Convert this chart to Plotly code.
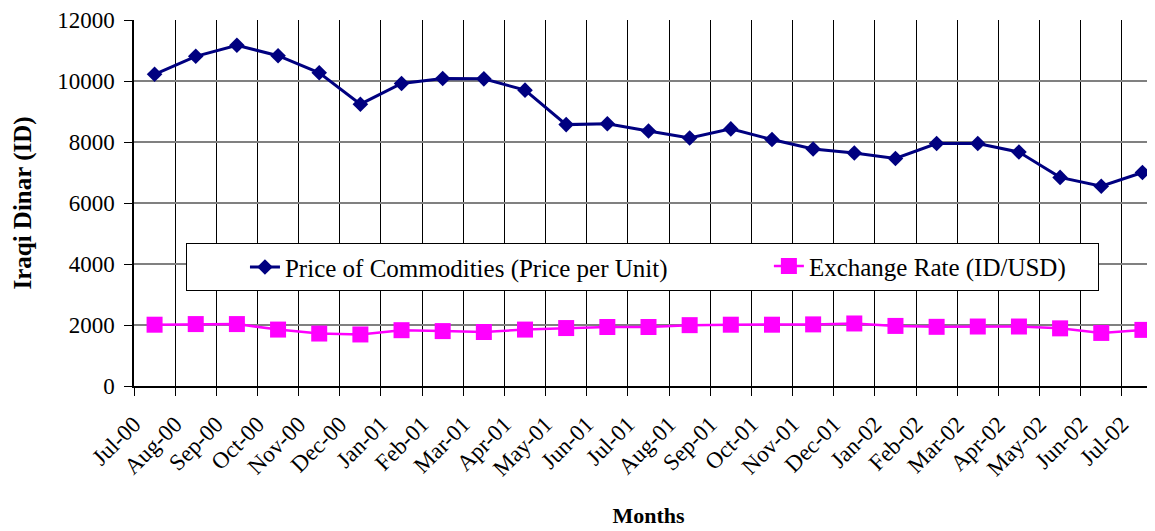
import plotly.graph_objects as go

months = ["Jul-00", "Aug-00", "Sep-00", "Oct-00", "Nov-00", "Dec-00",
          "Jan-01", "Feb-01", "Mar-01", "Apr-01", "May-01", "Jun-01",
          "Jul-01", "Aug-01", "Sep-01", "Oct-01", "Nov-01", "Dec-01",
          "Jan-02", "Feb-02", "Mar-02", "Apr-02", "May-02", "Jun-02", "Jul-02"]

price = [10220, 10810, 11170, 10830, 10270, 9240,
         9920, 10080, 10070, 9700, 8570, 8600,
         8360, 8130, 8430, 8080, 7770, 7640,
         7460, 7950, 7950, 7670, 6840, 6550, 7000]

exchange = [2010, 2030, 2030, 1850, 1720, 1690,
            1830, 1800, 1770, 1850, 1900, 1935,
            1935, 1995, 2010, 2010, 2020, 2050,
            1970, 1940, 1950, 1950, 1890, 1740, 1840]

y_ticks = [0, 2000, 4000, 6000, 8000, 10000, 12000]
y_tick_text = ["0", "2000", "4000", "6000", "8000", "10000", "12000"]

xi = list(range(len(months)))
boundaries = [i - 0.5 for i in xi]

serif = "Liberation Serif, Times New Roman, serif"

fig = go.Figure()
fig.add_trace(go.Scatter(
    x=xi, y=price, mode="lines+markers",
    name="Price of Commodities (Price per Unit)",
    line=dict(color="#000080", width=3),
    marker=dict(symbol="diamond", size=12, color="#000080"),
    legend="legend",
))
fig.add_trace(go.Scatter(
    x=xi, y=exchange, mode="lines+markers",
    name="Exchange Rate (ID/USD)",
    line=dict(color="#FF00FF", width=2.5),
    marker=dict(symbol="square", size=16, color="#FF00FF"),
    legend="legend2",
))

legend_font = dict(family=serif, size=25, color="black")

fig.update_layout(
    width=1155, height=531,
    margin=dict(l=126, r=0, t=12, b=153),
    paper_bgcolor="white", plot_bgcolor="white",
    font=dict(family=serif, color="black", size=23),
    showlegend=True,
    legend=dict(
        orientation="h", x=0.0505, y=0.390, xanchor="left", yanchor="top",
        xref="paper", yref="paper",
        bgcolor="white", bordercolor="black", borderwidth=1,
        font=legend_font, indentation=58, entrywidth=808,
    ),
    legend2=dict(
        orientation="h", x=0.617, y=0.390, xanchor="left", yanchor="top",
        xref="paper", yref="paper",
        bgcolor="rgba(0,0,0,0)", borderwidth=0,
        font=legend_font,
    ),
    xaxis=dict(
        range=[-0.5, 24.5],
        tickmode="array", tickvals=boundaries, ticktext=months,
        tickangle=-45, ticks="outside", ticklen=8, tickcolor="black", tickwidth=1.2,
        ticklabelstandoff=6,
        showgrid=True, gridcolor="black", gridwidth=1.2,
        tickfont=dict(family=serif, size=23, color="black"),
        showline=True, linecolor="black", linewidth=1.5,
        zeroline=False,
        title=dict(text="<b>Months</b>", font=dict(family=serif, size=22),
                   standoff=28),
    ),
    yaxis=dict(
        range=[0, 12000], tickmode="array", tickvals=y_ticks, ticktext=y_tick_text,
        showgrid=True, gridcolor="#808080", gridwidth=2,
        ticks="outside", ticklen=8, tickcolor="black", tickwidth=1.2,
        ticklabelstandoff=5,
        showline=True, linecolor="black", linewidth=1.5,
        zeroline=False,
        tickfont=dict(family=serif, size=23, color="black"),
        title=dict(text="<b>Iraqi Dinar (ID)</b>", font=dict(family=serif, size=25),
                   standoff=18),
    ),
)

fig.write_html("out.html")
